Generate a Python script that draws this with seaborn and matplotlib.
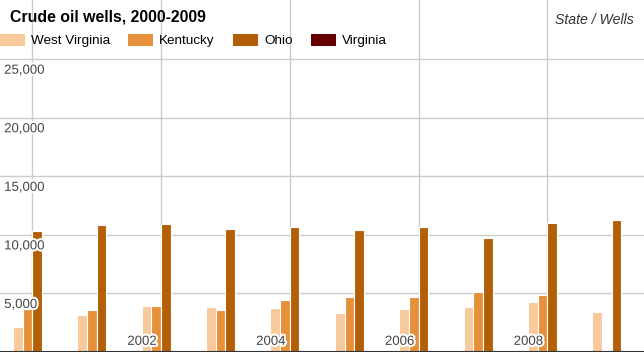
import pandas as pd
import seaborn as sns
import matplotlib.pyplot as plt
import matplotlib.patches as mpatches
import matplotlib.patheffects as pe

# 데이터
years = ['2000', '2001', '2002', '2003', '2004', '2005', '2006', '2007', '2008', '2009']
states = ['West Virginia', 'Kentucky', 'Ohio', 'Virginia']
west_virginia = [2100, 3120, 3890, 3800, 3720, 3290, 3630, 3800, 4230, 3380]
kentucky = [3650, 3550, 3890, 3550, 4400, 4660, 4660, 5080, 4830, 0]
ohio = [10300, 10810, 10900, 10470, 10640, 10390, 10640, 9700, 10980, 11240]
virginia = [0, 0, 0, 0, 0, 0, 0, 0, 0, 0]
colors = ['#f8c99b', '#e6913a', '#b35f08', '#660000']

y_ticks = [5000, 10000, 15000, 20000, 25000]
x_label_years = ['2002', '2004', '2006', '2008']

data = pd.DataFrame({
    'year': years * 4,
    'state': [s for s in states for _ in years],
    'wells': west_virginia + kentucky + ohio + virginia,
})

plt.rcParams['font.family'] = ['Liberation Sans', 'DejaVu Sans']

fig = plt.figure(figsize=(6.44, 3.52), dpi=100)
ax = fig.add_axes([0, 0, 1, 1])

sns.barplot(data=data, x='year', y='wells', hue='state', hue_order=states,
            palette=colors, width=0.6, edgecolor='white', linewidth=0.8,
            saturation=1, ax=ax, legend=False)

ax.set_xlim(-0.5, 9.5)
ax.set_ylim(0, 30050)
ax.set_axisbelow(True)

# 그리드
ax.set_yticks(y_ticks)
ax.set_xticks([years.index(y) for y in ['2000'] + x_label_years])
ax.grid(True, color='#cccccc', linewidth=1)
ax.tick_params(left=False, bottom=False, labelleft=False, labelbottom=False)
for side in ['top', 'left', 'right']:
    ax.spines[side].set_visible(False)
ax.spines['bottom'].set_color('#333333')
ax.spines['bottom'].set_linewidth(1.5)
ax.set_xlabel('')
ax.set_ylabel('')

halo = [pe.withStroke(linewidth=3, foreground='white')]

# y축 라벨 (안쪽)
for v in y_ticks:
    ax.annotate(f'{v:,}', xy=(0, v), xycoords=('axes fraction', 'data'),
                xytext=(3, -4), textcoords='offset points', ha='left', va='top',
                fontsize=9.5, color='#444444', path_effects=halo)

# x축 라벨 (안쪽)
for y in x_label_years:
    ax.annotate(y, xy=(years.index(y), 0), xycoords='data',
                xytext=(-3, 3), textcoords='offset points', ha='right', va='bottom',
                fontsize=9.5, color='#444444', path_effects=halo)

# 제목
fig.text(10 / 644, 1 - 17 / 352, 'Crude oil wells, 2000-2009', fontsize=11.4,
         fontweight='bold', ha='left', va='center', color='black')
fig.text(634 / 644, 1 - 20 / 352, 'State / Wells', fontsize=10.2, style='italic',
         ha='right', va='center', color='#333333')

# 범례
handles = [mpatches.Patch(facecolor=c, edgecolor='none', label=s)
           for s, c in zip(states, colors)]
ax.legend(handles=handles, loc='upper left', bbox_to_anchor=(0, 1 - 34 / 352),
          ncol=4, frameon=False, fontsize=9.7, borderaxespad=0, borderpad=0,
          handlelength=1.85, handleheight=0.95, handletextpad=0.45,
          columnspacing=1.35)

fig.savefig('out.png', dpi=100)
